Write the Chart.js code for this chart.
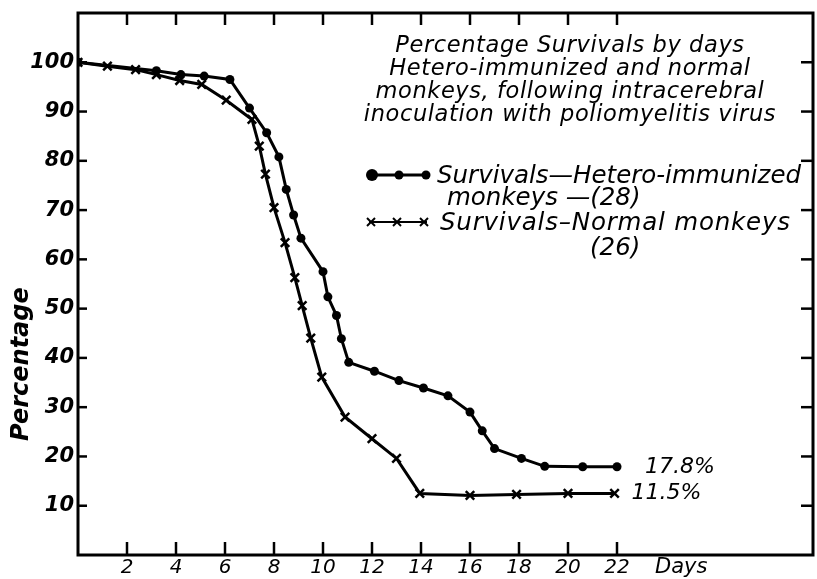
<!DOCTYPE html>
<html>
<head>
<meta charset="utf-8">
<script src="https://cdn.jsdelivr.net/npm/chart.js@4.4.1/dist/chart.umd.min.js"></script>
<style>
  body { margin: 0; background: #fff; }
  #wrap { position: relative; width: 817px; height: 579px; }
  .note { position: absolute; font-family: "DejaVu Sans", sans-serif; font-style: italic; color: #000; white-space: nowrap; }
</style>
</head>
<body>
<div id="wrap">
  <canvas id="chart" width="817" height="579"></canvas>
  <div class="note" style="left:345px;top:33px;width:450px;text-align:center;font-size:22.5px;line-height:23px;letter-spacing:0.6px">
    Percentage Survivals by days<br>Hetero-immunized and normal<br>monkeys, following intracerebral<br>inoculation with poliomyelitis virus
  </div>
  <div class="note" style="left:437px;top:161px;font-size:24.5px;line-height:28px">Survivals—Hetero-immunized</div>
  <div class="note" style="left:447px;top:183px;font-size:24.5px;line-height:28px">monkeys —(28)</div>
  <div class="note" style="left:440px;top:208px;font-size:24.5px;line-height:28px;letter-spacing:0.8px">Survivals–Normal monkeys</div>
  <div class="note" style="left:590px;top:233px;font-size:24.5px;line-height:28px">(26)</div>
  <div class="note" style="left:655px;top:553px;font-size:21px;line-height:26px">Days</div>
  <div class="note" style="left:-50px;top:357px;width:140px;text-align:center;font-size:24px;line-height:28px;font-weight:bold;transform:rotate(-90deg)">Percentage</div>
</div>
<script>
// values
const heteroDays = [0, 3.2, 4.2, 5.15, 6.2, 7.0, 7.7, 8.2, 8.5, 8.8, 9.1, 10.0, 10.2, 10.55, 10.75, 11.05, 12.1, 13.1, 14.1, 15.1, 16.0, 16.5, 17.0, 18.1, 19.05, 20.6, 22.0];
const heteroPct = [100, 98.3, 97.5, 97.2, 96.5, 90.7, 85.7, 80.8, 74.2, 69.0, 64.3, 57.5, 52.4, 48.6, 43.9, 39.1, 37.3, 35.4, 33.9, 32.3, 29.0, 25.2, 21.6, 19.6, 18.0, 17.9, 17.9];

const normalDays = [0, 1.2, 2.35, 3.2, 4.15, 5.05, 6.05, 7.1, 7.4, 7.65, 8.0, 8.45, 8.85, 9.15, 9.5, 9.95, 10.9, 12.0, 13.0, 13.95, 16.0, 17.9, 20.0, 21.9];
const normalPct = [100, 99.2, 98.5, 97.5, 96.3, 95.5, 92.3, 88.4, 83.0, 77.3, 70.5, 63.4, 56.3, 50.6, 44.0, 36.1, 28.0, 23.6, 19.6, 12.5, 12.1, 12.3, 12.5, 12.5];

const endLabels = ["17.8%", "11.5%"];

const FONT = "DejaVu Sans";

function toPoints(xs, ys) {
    return xs.map((d, i) => ({ x: d, y: ys[i] }));
}

const framePlugin = {
    id: "frame",
    afterDraw(chart) {
        const { ctx, chartArea: a, scales } = chart;
        const x = scales.x, y = scales.y;
        ctx.save();
        ctx.strokeStyle = "#000";
        ctx.lineCap = "butt";
        ctx.lineWidth = 3;
        ctx.strokeRect(a.left, a.top, a.right - a.left, a.bottom - a.top);

        const seg = (x1, y1, x2, y2) => {
            ctx.beginPath();
            ctx.moveTo(x1, y1);
            ctx.lineTo(x2, y2);
            ctx.stroke();
        };
        ctx.lineWidth = 2.5;
        x.ticks.forEach((t) => {
            if (t.value < 2 || t.value > 22) return;
            const px = x.getPixelForValue(t.value);
            seg(px, a.bottom, px, a.bottom - 13);
            seg(px, a.top, px, a.top + 12);
        });
        y.ticks.forEach((t) => {
            if (t.value < 10 || t.value > 100) return;
            const py = y.getPixelForValue(t.value);
            seg(a.left, py, a.left + 9, py);
            seg(a.right, py, a.right - 12, py);
        });

        // labels at the ends of the two curves
        ctx.fillStyle = "#000";
        ctx.font = `italic 22px "${FONT}"`;
        ctx.textBaseline = "middle";
        const hx = x.getPixelForValue(heteroDays[heteroDays.length - 1]);
        const hy = y.getPixelForValue(heteroPct[heteroPct.length - 1]);
        ctx.fillText(endLabels[0], hx + 28, hy);
        const nx = x.getPixelForValue(normalDays[normalDays.length - 1]);
        const ny = y.getPixelForValue(normalPct[normalPct.length - 1]);
        ctx.fillText(endLabels[1], nx + 17, ny);

        // legend samples
        ctx.lineWidth = 3;
        seg(372, 175, 428, 175);
        [372, 399, 426].forEach((lx) => {
            ctx.beginPath();
            ctx.arc(lx, 175, lx === 372 ? 6 : 4.5, 0, Math.PI * 2);
            ctx.fill();
        });
        ctx.lineWidth = 2;
        seg(369, 222, 427, 222);
        [371, 397, 424].forEach((lx) => {
            seg(lx - 4, 218, lx + 4, 226);
            seg(lx - 4, 226, lx + 4, 218);
        });
        ctx.restore();
    },
};

new Chart(document.getElementById("chart"), {
    type: "line",
    data: {
        datasets: [
            {
                label: "Survivals—Hetero-immunized monkeys—(28)",
                data: toPoints(heteroDays, heteroPct),
                borderColor: "#000",
                backgroundColor: "#000",
                borderWidth: 3,
                pointStyle: "circle",
                pointRadius: 4.5,
                pointBorderWidth: 0,
                tension: 0,
            },
            {
                label: "Survivals—Normal monkeys (26)",
                data: toPoints(normalDays, normalPct),
                borderColor: "#000",
                backgroundColor: "#000",
                borderWidth: 3,
                pointStyle: "crossRot",
                pointRadius: 6,
                pointBorderWidth: 2.5,
                tension: 0,
            },
        ],
    },
    options: {
        responsive: false,
        animation: false,
        layout: { autoPadding: false, padding: { top: 13, right: 4, left: 0, bottom: 0 } },
        plugins: { legend: { display: false }, tooltip: { enabled: false } },
        scales: {
            x: {
                type: "linear",
                min: 0,
                max: 30,
                grid: { display: false, drawTicks: false },
                border: { display: false },
                ticks: {
                    stepSize: 2,
                    padding: 1,
                    color: "#000",
                    font: { family: FONT, size: 20, style: "italic" },
                    callback: (v) => (v >= 2 && v <= 22 ? v : ""),
                },
                afterFit: (s) => {
                    s.height = 24;
                    s.paddingLeft = 0;
                    s.paddingRight = 0;
                },
            },
            y: {
                min: 0,
                max: 110,
                grid: { display: false, drawTicks: false },
                border: { display: false },
                ticks: {
                    stepSize: 10,
                    padding: 4,
                    color: "#000",
                    font: { family: FONT, size: 21, style: "italic", weight: "bold" },
                    callback: (v) => (v >= 10 && v <= 100 ? v : ""),
                },
                afterFit: (s) => {
                    s.width = 78;
                    s.paddingTop = 0;
                    s.paddingBottom = 0;
                },
            },
        },
    },
    plugins: [framePlugin],
});
</script>
</body>
</html>
